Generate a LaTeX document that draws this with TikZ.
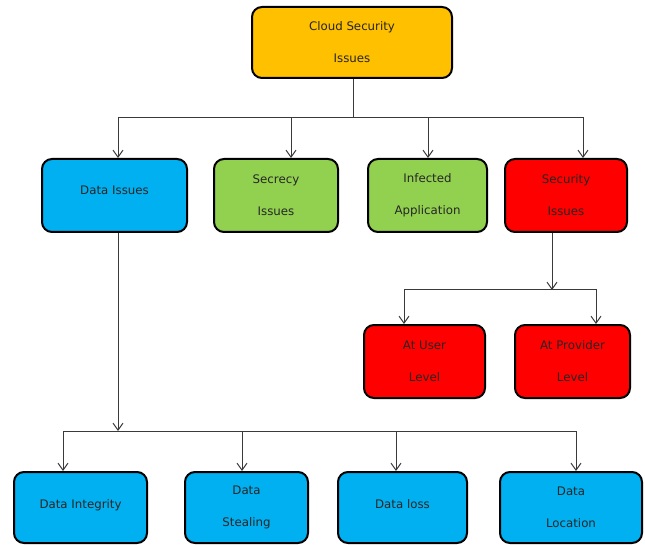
\documentclass[tikz,border=0pt]{standalone}
\usepackage{fontspec}
\setmainfont{DejaVu Sans}
\usetikzlibrary{arrows.meta}
\definecolor{boxorange}{HTML}{FFC000}
\definecolor{boxblue}{HTML}{00B0F0}
\definecolor{boxgreen}{HTML}{92D050}
\definecolor{boxred}{HTML}{FF0000}
\definecolor{linkgray}{HTML}{3A3A3A}
\begin{document}
\begin{tikzpicture}[x=1pt,y=-1pt,
  card/.style={draw=black, line width=2pt, rounded corners=10pt, inner sep=0pt,
    align=center, font=\fontsize{11.8}{32}\selectfont, text=black!85},
  link/.style={draw=linkgray, line width=1pt},
  arr/.style={link, -{Straight Barb[length=7pt,width=10pt,line width=1pt]}}]
\useasboundingbox (0,0) rectangle (645,545);

% boxes: centre, width, height
\node[card, fill=boxorange, minimum width=200pt, minimum height=71pt] (cloud) at (352,42.5) {Cloud Security\\Issues};

\node[card, fill=boxblue,  minimum width=145pt, minimum height=73pt] (dataiss)  at (114.5,195.5) {\raisebox{11pt}{Data Issues}};
\node[card, fill=boxgreen, minimum width=124pt, minimum height=73pt] (secrecy)  at (276,195.5) {Secrecy\\Issues};
\node[card, fill=boxgreen, minimum width=119pt, minimum height=73pt] (infected) at (427.5,195.5) {Infected\\Application};
\node[card, fill=boxred,   minimum width=122pt, minimum height=73pt] (security) at (566,195.5) {Security\\Issues};

\node[card, fill=boxred, minimum width=121pt, minimum height=73pt] (user)     at (424.5,361.5) {At User\\Level};
\node[card, fill=boxred, minimum width=115pt, minimum height=73pt] (provider) at (572.5,361.5) {At Provider\\Level};

\node[card, fill=boxblue, minimum width=133pt, minimum height=71pt] (integrity) at (80.5,507.5) {\raisebox{7pt}{Data Integrity}};
\node[card, fill=boxblue, minimum width=123pt, minimum height=71pt] (stealing)  at (246.5,507.5) {Data\\Stealing};
\node[card, fill=boxblue, minimum width=129pt, minimum height=71pt] (loss)      at (402.5,507.5) {\raisebox{7pt}{Data loss}};
\node[card, fill=boxblue, minimum width=142pt, minimum height=71pt] (location)  at (571,507.5) {Data\\Location};

% junction points of the branch lines
\coordinate (busA) at (353,118);
\coordinate (busB) at (552,290);
\coordinate (busC) at (118,431);

% top level
\draw[link] ([xshift=1pt]cloud.south) -- (busA);
\draw[arr] (busA) -| ([xshift=3.5pt]dataiss.north);
\draw[arr] (busA) -| ([xshift=15pt]secrecy.north);
\draw[arr] (busA) -| ([xshift=0.5pt]infected.north);
\draw[arr] (busA) -| ([xshift=17pt]security.north);

% security branch
\draw[arr] ([xshift=-14pt]security.south) -- (busB);
\draw[arr] (busB) -| ([xshift=-20.5pt]user.north);
\draw[arr] (busB) -| ([xshift=23.5pt]provider.north);

% data branch
\draw[arr] ([xshift=3.5pt]dataiss.south) -- (busC);
\draw[arr] (busC) -| ([xshift=-17.5pt]integrity.north);
\draw[arr] (busC) -| ([xshift=-4.5pt]stealing.north);
\draw[arr] (busC) -| ([xshift=-6.5pt]loss.north);
\draw[arr] (busC) -| ([xshift=5pt]location.north);
\end{tikzpicture}
\end{document}
